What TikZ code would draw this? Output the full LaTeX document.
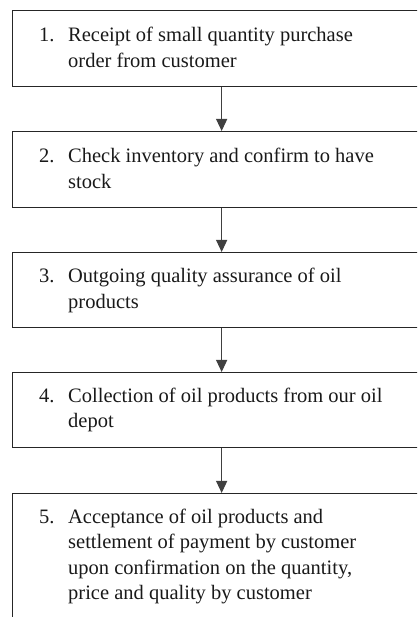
\documentclass[tikz,border=0pt]{standalone}
\usepackage{fontspec}
\setmainfont{Liberation Serif}
\usetikzlibrary{arrows.meta,calc}
\begin{document}
\begin{tikzpicture}[x=1pt,y=1pt,
  stepbox/.style={draw=black!85, line width=1.3pt, minimum width=418pt, anchor=north west, inner sep=0pt},
  steptext/.style={anchor=base west, inner sep=0pt, font=\fontsize{20.5}{25.5}\selectfont, text=black!90},
  arr/.style={draw=black!75, line width=1.2pt, -{Triangle[width=11pt,length=12pt]}}]
\useasboundingbox (0,0) rectangle (417,617);
\clip (0,0) rectangle (417,617);
\node[stepbox, minimum height=76pt] (b1) at (12,607) {};
\node[stepbox, minimum height=76pt] (b2) at (12,486) {};
\node[stepbox, minimum height=75pt] (b3) at (12,365) {};
\node[stepbox, minimum height=75pt] (b4) at (12,245) {};
\node[stepbox, minimum height=160pt] (b5) at (12,124) {};
\node[steptext] (t1) at ($(b1.north west)+(27,-32)$) {\begin{tabular}[t]{@{}p{29pt}@{}l@{}}1. & Receipt of small quantity purchase\\ & order from customer\end{tabular}};
\node[steptext] (t2) at ($(b2.north west)+(27,-32)$) {\begin{tabular}[t]{@{}p{29pt}@{}l@{}}2. & Check inventory and confirm to have\\ & stock\end{tabular}};
\node[steptext] (t3) at ($(b3.north west)+(27,-31)$) {\begin{tabular}[t]{@{}p{29pt}@{}l@{}}3. & Outgoing quality assurance of oil\\ & products\end{tabular}};
\node[steptext] (t4) at ($(b4.north west)+(27,-30.5)$) {\begin{tabular}[t]{@{}p{29pt}@{}l@{}}4. & Collection of oil products from our oil\\ & depot\end{tabular}};
\node[steptext] (t5) at ($(b5.north west)+(27,-30.5)$) {\begin{tabular}[t]{@{}p{29pt}@{}l@{}}5. & Acceptance of oil products and\\ & settlement of payment by customer\\ & upon confirmation on the quantity,\\ & price and quality by customer\end{tabular}};
\draw[arr] (b1.south) -- (b2.north);
\draw[arr] (b2.south) -- (b3.north);
\draw[arr] (b3.south) -- (b4.north);
\draw[arr] (b4.south) -- (b5.north);
\end{tikzpicture}
\end{document}
